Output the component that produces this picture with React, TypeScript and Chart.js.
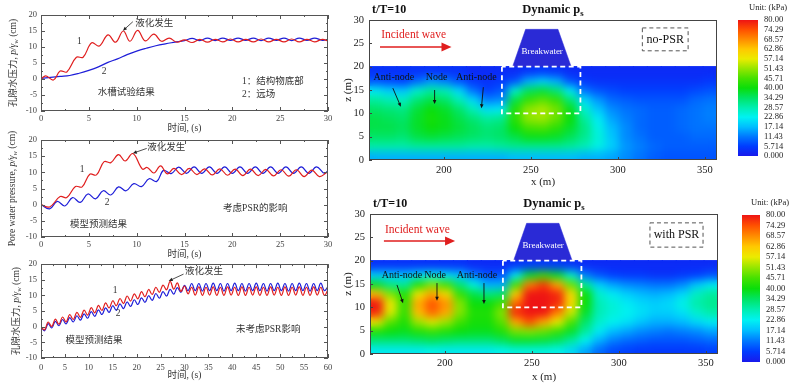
import React, { useEffect, useRef } from 'react';
import { Chart, registerables } from 'chart.js';
Chart.register(...registerables);

const SERIF = "'Liberation Serif','Noto Sans CJK SC',serif";
const RED = '#e01e1e';
const BLUE = '#1e1ed8';

// ---------- Left panel 1 : flume test ----------
const p1RedT = [0, 0.5, 1.3, 2.0, 2.7, 3.7, 4.4, 5.3, 6.1, 7.0, 7.8, 8.6, 9.3, 10.1, 10.9, 11.8, 12.6, 13.4, 14.2, 15.0, 15.8, 16.6, 17.4, 18.2, 19.0, 19.8, 20.6, 21.4, 22.2, 23.0, 23.8, 24.6, 25.4, 26.2, 27.0, 27.8, 28.6, 29.4, 30];
const p1RedV = [0, 1.0, -0.3, 2.5, 2.2, 6.8, 6.8, 11.3, 10.3, 13.8, 11.5, 15.0, 11.8, 15.2, 11.9, 14.0, 11.8, 12.8, 11.5, 12.2, 11.4, 12.4, 11.5, 12.4, 11.6, 12.5, 11.6, 12.4, 11.6, 12.5, 11.6, 12.4, 11.6, 12.5, 11.6, 12.4, 11.6, 12.4, 11.9];
const p1BlueT = [0, 1, 2, 3, 4, 5, 6, 7, 8, 9, 10, 11, 12, 13, 14, 15, 15.8, 16.6, 17.4, 18.2, 19.0, 19.8, 20.6, 21.4, 22.2, 23.0, 23.8, 24.6, 25.4, 26.2, 27.0, 27.8, 28.6, 29.4, 30];
const p1BlueV = [0.2, 0.5, 0.8, 1.1, 1.8, 2.7, 3.8, 5.2, 6.3, 7.6, 8.7, 9.6, 10.4, 11.0, 11.5, 12.0, 12.7, 12.0, 12.8, 12.0, 12.8, 12.1, 12.8, 12.1, 12.8, 12.0, 12.8, 12.1, 12.8, 12.0, 12.8, 12.1, 12.8, 12.1, 12.3];

// ---------- Left panel 2 : model with PSR ----------
const p2RedT = [0, 0.9, 2.0, 2.7, 3.6, 4.3, 5.1, 5.8, 6.6, 7.3, 8.1, 8.8, 9.6, 10.6, 11.1, 11.8, 12.5, 13.2, 13.9, 14.7, 15.5, 16.3, 17.1, 17.9, 18.7, 19.5, 20.3, 21.1, 21.9, 22.7, 23.5, 24.3, 25.1, 25.9, 26.7, 27.5, 28.3, 29.1, 29.9];
const p2RedV = [0, -0.7, 2.5, 2.2, 5.6, 5.5, 9.4, 9.2, 13.3, 13.0, 15.5, 13.5, 15.8, 11.0, 11.5, 9.8, 12.0, 9.5, 11.2, 9.3, 11.2, 9.3, 11.1, 9.2, 11.1, 9.1, 11.0, 9.0, 11.0, 9.0, 10.9, 8.9, 10.8, 8.8, 10.8, 8.7, 10.7, 8.7, 10.0];
const p2BlueT = [0, 0.9, 1.7, 2.5, 3.3, 4.1, 4.9, 5.7, 6.5, 7.3, 8.1, 8.9, 9.7, 10.5, 11.3, 12.1, 12.8, 13.6, 14.4, 15.2, 16.0, 16.8, 17.6, 18.4, 19.2, 20.0, 20.8, 21.6, 22.4, 23.2, 24.0, 24.8, 25.6, 26.4, 27.2, 28.0, 28.8, 29.6, 30];
const p2BlueV = [0, -1.3, 1.0, -0.4, 2.2, 0.7, 3.3, 1.8, 4.3, 3.0, 5.5, 4.3, 6.5, 5.6, 8.0, 7.2, 10.6, 9.6, 11.6, 9.7, 11.7, 9.7, 11.7, 9.7, 11.7, 9.7, 11.7, 9.7, 11.7, 9.7, 11.7, 9.7, 11.7, 9.7, 11.7, 9.7, 11.7, 9.7, 10.5];

// ---------- Left panel 3 : model without PSR (sampled every 0.75 s) ----------
const p3Step = 0.75;
const p3RedV = [0, -1.0, 1.5, 0.1, 2.4, 0.8, 3.1, 1.5, 3.9, 2.3, 4.6, 3.0, 5.3, 3.7, 6.1, 4.4, 6.8, 5.2, 7.6, 6.0, 8.3, 6.7, 9.0, 7.4, 9.8, 8.2, 10.5, 8.9, 11.2, 9.6, 11.9, 10.3, 12.6, 11.0, 13.3, 11.8, 14.5, 12.0, 14.0, 11.3, 13.0, 10.5, 12.6, 10.1, 12.7, 10.0, 12.6, 10.1, 12.7, 10.0, 12.6, 10.0, 12.7, 10.1, 12.6, 10.0, 12.7, 10.0, 12.6, 10.1, 12.7, 10.0, 12.6, 10.0, 12.7, 10.1, 12.6, 10.0, 12.7, 10.0, 12.6, 10.1, 12.7, 10.0, 12.6, 10.0, 12.7, 10.1, 12.6, 10.0, 11.8];
const p3BlueV = [0, -1.3, 1.0, -0.4, 1.7, 0.3, 2.3, 0.9, 2.9, 1.5, 3.5, 2.1, 4.1, 2.7, 4.8, 3.3, 5.4, 3.9, 6.0, 4.6, 6.7, 5.2, 7.3, 5.8, 7.9, 6.5, 8.6, 7.1, 9.2, 7.8, 9.9, 8.4, 10.6, 9.1, 11.2, 9.8, 11.9, 10.4, 12.5, 11.0, 13.2, 11.5, 13.8, 11.5, 13.8, 11.4, 13.8, 11.5, 13.9, 11.5, 13.8, 11.4, 13.8, 11.5, 13.9, 11.5, 13.8, 11.4, 13.8, 11.5, 13.9, 11.5, 13.8, 11.4, 13.8, 11.5, 13.9, 11.5, 13.8, 11.4, 13.8, 11.5, 13.9, 11.5, 13.8, 11.4, 13.8, 11.5, 13.9, 11.5, 12.8];

const leftYTicks = [-10, -5, 0, 5, 10, 15, 20];

// ---------- Heatmaps (dynamic pore pressure, kPa) ----------
const hmX = [161, 169, 177, 185, 193, 201, 209, 217, 225, 233, 241, 249, 257, 265, 273, 281, 289, 297, 305, 313, 321, 329, 337, 345, 353];
const hmZ = [19, 17, 15, 13, 11, 9, 7, 5, 3, 1];
const noPsrValues = [
  [4, 4, 4, 4, 4, 4, 4, 3, 3, 3, 3, 4, 5, 4, 3, 3, 3, 3, 3, 3, 3, 3, 3, 3, 3],
  [8, 7, 6, 10, 14, 12, 8, 5, 4, 5, 8, 16, 19, 16, 8, 5, 4, 4, 4, 4, 4, 4, 4, 4, 5],
  [22, 19, 18, 26, 30, 28, 20, 11, 6, 8, 26, 35, 37, 33, 22, 11, 8, 7, 6, 6, 6, 6, 6, 7, 8],
  [30, 28, 27, 33, 36, 34, 28, 20, 12, 13, 36, 44, 47, 44, 33, 20, 14, 10, 9, 8, 8, 8, 8, 10, 11],
  [34, 33, 32, 37, 40, 38, 34, 28, 21, 22, 42, 51, 53, 49, 39, 26, 18, 13, 11, 10, 9, 9, 10, 11, 12],
  [36, 35, 34, 38, 41, 39, 36, 33, 30, 31, 43, 51, 52, 48, 40, 30, 22, 15, 12, 10, 9, 9, 10, 11, 12],
  [36, 36, 35, 38, 40, 39, 37, 35, 33, 34, 40, 45, 46, 43, 38, 32, 24, 17, 13, 10, 9, 9, 10, 11, 11],
  [34, 34, 33, 36, 37, 36, 35, 34, 33, 34, 36, 39, 39, 38, 35, 31, 25, 18, 13, 11, 9, 9, 9, 10, 10],
  [29, 29, 29, 30, 30, 30, 30, 29, 29, 30, 31, 31, 31, 31, 30, 28, 24, 19, 14, 12, 10, 9, 9, 9, 9],
  [16, 16, 16, 16, 16, 16, 16, 16, 16, 16, 17, 17, 17, 17, 17, 16, 16, 15, 13, 11, 9, 8, 8, 8, 8],
];
const withPsrValues = [
  [4, 4, 4, 4, 4, 4, 4, 3, 3, 3, 4, 5, 5, 5, 4, 3, 3, 3, 3, 3, 3, 3, 3, 3, 3],
  [19, 19, 18, 21, 24, 21, 18, 12, 8, 8, 22, 38, 44, 38, 26, 12, 8, 6, 5, 5, 4, 4, 5, 6, 8],
  [38, 32, 30, 42, 50, 45, 33, 24, 16, 16, 45, 70, 76, 66, 48, 30, 19, 15, 13, 12, 11, 11, 13, 18, 22],
  [64, 50, 42, 58, 66, 60, 44, 36, 32, 34, 62, 80, 80, 78, 60, 40, 26, 22, 19, 17, 16, 17, 20, 27, 30],
  [80, 58, 44, 66, 74, 68, 50, 40, 40, 45, 72, 80, 80, 78, 60, 40, 28, 25, 22, 20, 19, 20, 24, 29, 31],
  [78, 56, 44, 64, 72, 66, 50, 42, 42, 50, 78, 80, 80, 70, 55, 38, 28, 25, 23, 21, 19, 19, 21, 26, 29],
  [58, 47, 42, 52, 56, 52, 45, 41, 41, 47, 66, 74, 66, 57, 46, 34, 26, 23, 21, 18, 16, 16, 17, 20, 22],
  [42, 40, 39, 42, 44, 42, 40, 39, 39, 42, 49, 50, 48, 44, 38, 30, 22, 17, 15, 13, 12, 11, 12, 13, 15],
  [33, 33, 33, 34, 35, 34, 33, 33, 33, 35, 38, 38, 37, 35, 30, 23, 16, 12, 10, 9, 8, 8, 8, 9, 10],
  [22, 22, 22, 22, 23, 22, 22, 22, 22, 23, 24, 24, 24, 23, 20, 15, 10, 7, 6, 5, 5, 5, 5, 5, 6],
];
const breakwaterX = [239.5, 247, 265.6, 273.2];
const breakwaterZ = [20, 28, 28, 20];
const boxX = [233.4, 233.4, 278.5, 278.5, 233.4];
const boxZ = [20, 10, 10, 20, 20];
const hmXTicks = [200, 250, 300, 350];
const cbTicks = [0, 5.714, 11.43, 17.14, 22.86, 28.57, 34.29, 40, 45.71, 51.43, 57.14, 62.86, 68.57, 74.29, 80];
const cbLabels = ['0.000', '5.714', '11.43', '17.14', '22.86', '28.57', '34.29', '40.00', '45.71', '51.43', '57.14', '62.86', '68.57', '74.29', '80.00'];

const cmap: [number, number[]][] = [
  [0, [25, 25, 235]], [5.714, [0, 60, 255]], [11.43, [0, 120, 255]], [17.14, [0, 190, 255]],
  [22.86, [0, 242, 242]], [28.57, [0, 238, 175]], [34.29, [0, 228, 100]], [40, [10, 222, 10]],
  [45.71, [70, 225, 0]], [51.43, [150, 230, 0]], [57.14, [235, 235, 0]], [62.86, [255, 200, 0]],
  [68.57, [255, 140, 0]], [74.29, [255, 80, 0]], [80, [238, 20, 20]],
];
function colorFor(v: number) {
  if (v <= 0) return `rgb(${cmap[0][1].join(',')})`;
  for (let i = 1; i < cmap.length; i++) {
    if (v <= cmap[i][0]) {
      const [v0, c0] = cmap[i - 1];
      const [v1, c1] = cmap[i];
      const f = (v - v0) / (v1 - v0);
      const c = c0.map((a, k) => Math.round(a + (c1[k] - a) * f));
      return `rgb(${c.join(',')})`;
    }
  }
  return `rgb(${cmap[cmap.length - 1][1].join(',')})`;
}

// ---------- helpers ----------
function drawArrow(ctx: CanvasRenderingContext2D, x1: number, y1: number, x2: number, y2: number, color: string, lw: number, head: number) {
  const ang = Math.atan2(y2 - y1, x2 - x1);
  ctx.save();
  ctx.strokeStyle = color; ctx.fillStyle = color; ctx.lineWidth = lw;
  ctx.beginPath();
  ctx.moveTo(x1, y1);
  ctx.lineTo(x2 - Math.cos(ang) * head * 0.8, y2 - Math.sin(ang) * head * 0.8);
  ctx.stroke();
  ctx.beginPath();
  ctx.moveTo(x2, y2);
  ctx.lineTo(x2 - head * Math.cos(ang) + head * 0.45 * Math.sin(ang), y2 - head * Math.sin(ang) - head * 0.45 * Math.cos(ang));
  ctx.lineTo(x2 - head * Math.cos(ang) - head * 0.45 * Math.sin(ang), y2 - head * Math.sin(ang) + head * 0.45 * Math.cos(ang));
  ctx.closePath();
  ctx.fill();
  ctx.restore();
}

type Part = { t: string; sub?: boolean; italic?: boolean; bold?: boolean };
function drawRich(ctx: CanvasRenderingContext2D, cx: number, cy: number, parts: Part[], size: number, rot: number, color: string, align = 'center') {
  ctx.save();
  ctx.translate(cx, cy);
  ctx.rotate(rot);
  const font = (p: Part) => `${p.italic ? 'italic ' : ''}${p.bold ? 'bold ' : ''}${p.sub ? size * 0.7 : size}px ${SERIF}`;
  let total = 0;
  parts.forEach(p => { ctx.font = font(p); total += ctx.measureText(p.t).width; });
  let x = align === 'center' ? -total / 2 : 0;
  ctx.textBaseline = 'middle';
  ctx.textAlign = 'left';
  ctx.fillStyle = color;
  parts.forEach(p => {
    ctx.font = font(p);
    ctx.fillText(p.t, x, p.sub ? size * 0.32 : 0);
    x += ctx.measureText(p.t).width;
  });
  ctx.restore();
}

// ---------- left panels ----------
type Label = { text: string; x: number; y: number; align?: CanvasTextAlign; size?: number };
type LeftPanel = {
  top: number; height: number; padTop: number; xAxisH: number; tickPad: number; titlePad: number;
  xMax: number; red: { x: number; y: number }[]; blue: { x: number; y: number }[];
  yTitle: Part[]; yTitleX: number; labels: Label[]; arrow: number[];
};

const cjkTitle: Part[] = [{ t: '孔隙水压力, ' }, { t: 'p/γ', italic: true }, { t: 'w', sub: true, italic: true }, { t: ' (cm)' }];
const enTitle: Part[] = [{ t: 'Pore water pressure, ' }, { t: 'p/γ', italic: true }, { t: 'w', sub: true, italic: true }, { t: ' (cm)' }];

const panels: LeftPanel[] = [
  {
    top: 0, height: 136, padTop: 15, xAxisH: 25, tickPad: 3, titlePad: 2, xMax: 30,
    red: p1RedT.map((t, i) => ({ x: t, y: p1RedV[i] })),
    blue: p1BlueT.map((t, i) => ({ x: t, y: p1BlueV[i] })),
    yTitle: cjkTitle, yTitleX: 13,
    labels: [
      { text: '液化发生', x: 9.85, y: 17.5, align: 'left' },
      { text: '1', x: 4.0, y: 11.6 }, { text: '2', x: 6.6, y: 2.2 },
      { text: '水槽试验结果', x: 8.9, y: -4.1 },
      { text: '1：结构物底部', x: 21.0, y: -0.9, align: 'left' },
      { text: '2：远场', x: 21.0, y: -4.7, align: 'left' },
    ],
    arrow: [9.6, 17.9, 8.56, 15.1],
  },
  {
    top: 130, height: 132, padTop: 10, xAxisH: 25, tickPad: 3, titlePad: 2, xMax: 30,
    red: p2RedT.map((t, i) => ({ x: t, y: p2RedV[i] })),
    blue: p2BlueT.map((t, i) => ({ x: t, y: p2BlueV[i] })),
    yTitle: enTitle, yTitleX: 12,
    labels: [
      { text: '液化发生', x: 11.1, y: 17.8, align: 'left' },
      { text: '1', x: 4.3, y: 11.0 }, { text: '2', x: 6.9, y: 0.8 },
      { text: '考虑PSR的影响', x: 22.4, y: -1.3 },
      { text: '模型预测结果', x: 6.0, y: -6.0 },
    ],
    arrow: [11.05, 17.4, 9.6, 15.9],
  },
  {
    top: 255, height: 132, padTop: 7, xAxisH: 29, tickPad: 5, titlePad: 6, xMax: 60,
    red: p3RedV.map((v, i) => ({ x: i * p3Step, y: v })),
    blue: p3BlueV.map((v, i) => ({ x: i * p3Step, y: v })),
    yTitle: cjkTitle, yTitleX: 16,
    labels: [
      { text: '液化发生', x: 30.1, y: 17.5, align: 'left' },
      { text: '1', x: 15.5, y: 11.6 }, { text: '2', x: 16.1, y: 4.1 },
      { text: '未考虑PSR影响', x: 47.5, y: -0.9 },
      { text: '模型预测结果', x: 11.1, y: -4.4 },
    ],
    arrow: [29.8, 16.8, 26.7, 14.6],
  },
];

function leftConfig(p: LeftPanel): any {
  const deco = {
    id: 'leftDeco',
    afterDraw(chart: any) {
      const { ctx, chartArea: a, scales } = chart;
      const X = (v: number) => scales.x.getPixelForValue(v);
      const Y = (v: number) => scales.y.getPixelForValue(v);
      ctx.save();
      ctx.strokeStyle = '#555';
      ctx.lineWidth = 1;
      ctx.strokeRect(Math.round(a.left) + 0.5, Math.round(a.top) + 0.5, Math.round(a.width) - 1, Math.round(a.height) - 1);
      ctx.beginPath();
      for (let v = 0; v <= p.xMax; v += 2.5) {
        const len = v % 5 === 0 ? 4 : 2;
        const px = Math.round(X(v)) + 0.5;
        ctx.moveTo(px, a.bottom); ctx.lineTo(px, a.bottom - len);
        ctx.moveTo(px, a.top); ctx.lineTo(px, a.top + len);
      }
      for (let v = -10; v <= 20; v += 2.5) {
        const len = v % 5 === 0 ? 4 : 2;
        const py = Math.round(Y(v)) + 0.5;
        ctx.moveTo(a.left, py); ctx.lineTo(a.left + len, py);
        ctx.moveTo(a.right, py); ctx.lineTo(a.right - len, py);
      }
      ctx.stroke();
      drawRich(ctx, p.yTitleX, (a.top + a.bottom) / 2, p.yTitle, 9.5, -Math.PI / 2, '#333');
      ctx.fillStyle = '#333';
      ctx.textBaseline = 'middle';
      for (const l of p.labels) {
        ctx.font = `${l.size || 9.5}px ${SERIF}`;
        ctx.textAlign = l.align || 'center';
        ctx.fillText(l.text, X(l.x), Y(l.y));
      }
      drawArrow(ctx, X(p.arrow[0]), Y(p.arrow[1]), X(p.arrow[2]), Y(p.arrow[3]), '#222', 0.8, 4);
      ctx.restore();
    },
  };
  const tickFont = { family: SERIF, size: 8.5 };
  return {
    type: 'line',
    data: {
      datasets: [
        { data: p.red, borderColor: RED, borderWidth: 1.2, pointRadius: 0, tension: 0.4, fill: false },
        { data: p.blue, borderColor: BLUE, borderWidth: 1.2, pointRadius: 0, tension: 0.4, fill: false },
      ],
    },
    options: {
      responsive: false, animation: false,
      layout: { padding: { top: p.padTop, right: 12, left: 0, bottom: 0 } },
      plugins: { legend: { display: false }, tooltip: { enabled: false } },
      scales: {
        x: {
          type: 'linear', min: 0, max: p.xMax,
          ticks: { stepSize: 5, font: tickFont, color: '#444', padding: p.tickPad, maxRotation: 0, autoSkip: false },
          grid: { display: false, drawTicks: false }, border: { display: false },
          title: { display: true, text: '时间, (s)', font: { family: SERIF, size: 9.5 }, color: '#333', padding: { top: 0, bottom: p.titlePad } },
          afterFit: (s: any) => { s.height = p.xAxisH; },
        },
        y: {
          min: -10, max: 20,
          afterBuildTicks: (s: any) => { s.ticks = leftYTicks.map(v => ({ value: v })); },
          ticks: { font: tickFont, color: '#444', padding: 4 },
          grid: { display: false, drawTicks: false }, border: { display: false },
          afterFit: (s: any) => { s.width = 41; },
        },
      },
    },
    plugins: [deco],
  };
}

// ---------- heatmaps ----------
type NodeLabel = { text: string; x: number; z: number; arrow: number[] };
type HeatPanel = {
  top: number; height: number; padTop: number; padRight: number; yW: number; xH: number;
  xTickPad: number; xTitlePad: number; values: number[][]; tag: string; tagBox: number[];
  incident: number[]; nodes: NodeLabel[];
};
const heats: HeatPanel[] = [
  {
    top: 0, height: 195, padTop: 20, padRight: 18, yW: 29, xH: 35, xTickPad: 4, xTitlePad: 6,
    values: noPsrValues, tag: 'no-PSR', tagBox: [314.1, 340.4, 28.3, 23.4],
    incident: [164, 26.8, 163.3, 204.4, 24.2],
    nodes: [
      { text: 'Anti-node', x: 171.3, z: 17.6, arrow: [170.7, 15.4, 175.3, 11.4] },
      { text: 'Node', x: 195.9, z: 17.6, arrow: [194.7, 15.0, 194.7, 12.0] },
      { text: 'Anti-node', x: 218.7, z: 17.6, arrow: [222.7, 15.6, 221.6, 11.1] },
    ],
  },
  {
    top: 195, height: 192, padTop: 19, padRight: 17, yW: 30, xH: 33, xTickPad: 3, xTitlePad: 3,
    values: withPsrValues, tag: 'with PSR', tagBox: [317.9, 348.4, 28.1, 22.9],
    incident: [165.6, 26.6, 165, 205.9, 24.2],
    nodes: [
      { text: 'Anti-node', x: 175.4, z: 16.9, arrow: [172.5, 14.8, 176, 10.9] },
      { text: 'Node', x: 194.4, z: 16.9, arrow: [195.5, 15.2, 195.5, 11.4] },
      { text: 'Anti-node', x: 218.5, z: 16.9, arrow: [222.5, 15.2, 222.5, 10.7] },
    ],
  },
];

function heatConfig(h: HeatPanel): any {
  const rows = h.values.map((row, r) => ({
    type: 'bar',
    data: hmX.map(x => ({ x, y: [hmZ[r] - 1, hmZ[r] + 1] })),
    backgroundColor: row.map(colorFor),
    borderWidth: 0, barPercentage: 1, categoryPercentage: 1, grouped: false, inflateAmount: 0.6, order: 5,
  }));
  const smooth = {
    id: 'heatSmooth',
    beforeDatasetDraw(chart: any, args: any) {
      if (args.index !== 1) return; // all cell rows are drawn; soften before overlays
      const { ctx, chartArea: a, scales } = chart;
      const x0 = Math.round(a.left), x1 = Math.round(a.right);
      const y0 = Math.round(scales.y.getPixelForValue(20)), y1 = Math.round(scales.y.getPixelForValue(0));
      const w = x1 - x0, hh = y1 - y0;
      const off = document.createElement('canvas');
      off.width = w; off.height = hh;
      const octx = off.getContext('2d');
      if (!octx) return;
      octx.drawImage(chart.canvas, x0, y0, w, hh, 0, 0, w, hh);
      ctx.save();
      ctx.beginPath(); ctx.rect(x0, y0, w, hh); ctx.clip();
      ctx.filter = 'blur(4px)';
      ctx.drawImage(off, x0, y0);
      ctx.drawImage(off, x0, y0);
      ctx.restore();
    },
  };
  const deco = {
    id: 'heatDeco',
    afterDraw(chart: any) {
      const { ctx, chartArea: a, scales } = chart;
      const X = (v: number) => scales.x.getPixelForValue(v);
      const Y = (v: number) => scales.y.getPixelForValue(v);
      ctx.save();
      ctx.strokeStyle = '#444'; ctx.lineWidth = 1;
      ctx.strokeRect(Math.round(a.left) + 0.5, Math.round(a.top) + 0.5, Math.round(a.width) - 1, Math.round(a.height) - 1);
      ctx.beginPath();
      for (const v of hmXTicks) { const px = Math.round(X(v)) + 0.5; ctx.moveTo(px, a.bottom); ctx.lineTo(px, a.bottom - 3); }
      for (let v = 0; v <= 30; v += 5) { const py = Math.round(Y(v)) + 0.5; ctx.moveTo(a.left, py); ctx.lineTo(a.left + 3, py); }
      ctx.stroke();
      ctx.fillStyle = '#111'; ctx.textBaseline = 'middle'; ctx.textAlign = 'left';
      ctx.font = `bold 12px ${SERIF}`;
      ctx.fillText('t/T=10', a.left + 3, a.top - 10);
      drawRich(ctx, a.left + 184, a.top - 10, [{ t: 'Dynamic p', bold: true }, { t: 's', bold: true, sub: true }], 12.5, 0, '#111');
      ctx.fillStyle = RED; ctx.font = `11.5px ${SERIF}`; ctx.textAlign = 'left';
      ctx.fillText('Incident wave', X(h.incident[0]), Y(h.incident[1]));
      drawArrow(ctx, X(h.incident[2]), Y(h.incident[4]), X(h.incident[3]), Y(h.incident[4]), RED, 1.6, 10);
      const [bx0, bx1, bz0, bz1] = h.tagBox;
      ctx.strokeStyle = '#555'; ctx.lineWidth = 1; ctx.setLineDash([4, 3]);
      ctx.strokeRect(X(bx0), Y(bz0), X(bx1) - X(bx0), Y(bz1) - Y(bz0));
      ctx.setLineDash([]);
      ctx.fillStyle = '#111'; ctx.font = `12px ${SERIF}`; ctx.textAlign = 'center';
      ctx.fillText(h.tag, (X(bx0) + X(bx1)) / 2, (Y(bz0) + Y(bz1)) / 2);
      ctx.fillStyle = '#fff'; ctx.font = `9px ${SERIF}`;
      ctx.fillText('Breakwater', X(256.5), Y(23.2));
      ctx.font = `10px ${SERIF}`;
      for (const n of h.nodes) {
        ctx.fillStyle = '#111';
        ctx.fillText(n.text, X(n.x), Y(n.z));
        drawArrow(ctx, X(n.arrow[0]), Y(n.arrow[1]), X(n.arrow[2]), Y(n.arrow[3]), '#111', 0.9, 4);
      }
      ctx.restore();
    },
  };
  const tickFont = { family: SERIF, size: 10.5 };
  return {
    type: 'bar',
    data: {
      datasets: [
        {
          type: 'line', data: boxX.map((x, i) => ({ x, y: boxZ[i] })), borderColor: '#ffffff', borderWidth: 1.8,
          borderDash: [5, 3.5], pointRadius: 0, fill: false, tension: 0, order: -2,
        },
        {
          type: 'line', data: breakwaterX.map((x, i) => ({ x, y: breakwaterZ[i] })), borderColor: '#2a2ad6',
          backgroundColor: '#2a2ad6', borderWidth: 0.5, pointRadius: 0, fill: { value: 20 }, tension: 0, order: -1,
        },
        ...rows,
      ],
    },
    options: {
      responsive: false, animation: false,
      layout: { padding: { top: h.padTop, right: h.padRight, left: 0, bottom: 0 } },
      plugins: { legend: { display: false }, tooltip: { enabled: false } },
      scales: {
        x: {
          type: 'linear', min: 157, max: 357, offset: false,
          afterBuildTicks: (s: any) => { s.ticks = hmXTicks.map(v => ({ value: v })); },
          ticks: { font: tickFont, color: '#222', padding: h.xTickPad, maxRotation: 0, autoSkip: false },
          grid: { display: false, drawTicks: false, offset: false }, border: { display: false },
          title: { display: true, text: 'x (m)', font: { family: SERIF, size: 11 }, color: '#222', padding: { top: 0, bottom: h.xTitlePad } },
          afterFit: (s: any) => { s.height = h.xH; },
        },
        y: {
          type: 'linear', min: 0, max: 30,
          ticks: { stepSize: 5, font: tickFont, color: '#222', padding: 5 },
          grid: { display: false, drawTicks: false }, border: { display: false },
          title: { display: true, text: 'z (m)', font: { family: SERIF, size: 11 }, color: '#222', padding: { top: 1.5, bottom: 0 } },
          afterFit: (s: any) => { s.width = h.yW; },
        },
      },
    },
    plugins: [smooth, deco],
  };
}

// ---------- colorbars ----------
type Bar = { top: number; height: number; padLeft: number; padTop: number; padBottom: number; yW: number; unitX: number };
const bars: Bar[] = [
  { top: 0, height: 195, padLeft: 3, padTop: 20, padBottom: 39, yW: 40, unitX: 33 },
  { top: 195, height: 192, padLeft: 7, padTop: 20, padBottom: 25, yW: 38, unitX: 35 },
];
function barConfig(b: Bar): any {
  return {
    type: 'bar',
    data: {
      labels: [''],
      datasets: [{
        data: [[0, 80]], borderWidth: 0, barPercentage: 1, categoryPercentage: 1,
        backgroundColor: (c: any) => {
          const a = c.chart.chartArea;
          if (!a) return '#00f';
          const g = c.chart.ctx.createLinearGradient(0, a.bottom, 0, a.top);
          cmap.forEach(([v, rgb]) => g.addColorStop(v / 80, `rgb(${rgb.join(',')})`));
          return g;
        },
      }],
    },
    options: {
      responsive: false, animation: false,
      layout: { padding: { left: b.padLeft, right: 0, top: b.padTop, bottom: b.padBottom } },
      plugins: { legend: { display: false }, tooltip: { enabled: false } },
      scales: {
        x: { display: false },
        y: {
          position: 'right', min: 0, max: 80,
          afterBuildTicks: (s: any) => { s.ticks = cbTicks.map(v => ({ value: v })); },
          ticks: {
            autoSkip: false, font: { family: SERIF, size: 8.5 }, color: '#222', padding: 6,
            callback: (v: number) => cbLabels[cbTicks.indexOf(v)] ?? '',
          },
          grid: { display: false, drawTicks: false }, border: { display: false },
          afterFit: (s: any) => { s.width = b.yW; },
        },
      },
    },
    plugins: [{
      id: 'unit',
      afterDraw(chart: any) {
        const { ctx } = chart;
        ctx.save();
        ctx.fillStyle = '#222'; ctx.font = `8.5px ${SERIF}`; ctx.textAlign = 'center'; ctx.textBaseline = 'middle';
        ctx.fillText('Unit: (kPa)', b.unitX, 8);
        ctx.restore();
      },
    }],
  };
}

function ChartBox({ left, top, width, height, config }: { left: number; top: number; width: number; height: number; config: () => any }) {
  const ref = useRef<HTMLCanvasElement>(null);
  useEffect(() => {
    const chart = new Chart(ref.current as HTMLCanvasElement, config());
    return () => chart.destroy();
  }, []);
  return (
    <div style={{ position: 'absolute', left, top, width, height }}>
      <canvas ref={ref} width={width} height={height} style={{ display: 'block', width, height }} />
    </div>
  );
}

export default function App() {
  return (
    <div style={{ position: 'absolute', left: 0, top: 0, width: 798, height: 387, background: '#fff', overflow: 'hidden' }}>
      {panels.map((p, i) => (
        <ChartBox key={'l' + i} left={0} top={p.top} width={340} height={p.height} config={() => leftConfig(p)} />
      ))}
      {heats.map((h, i) => (
        <ChartBox key={'h' + i} left={340} top={h.top} width={395} height={h.height} config={() => heatConfig(h)} />
      ))}
      {bars.map((b, i) => (
        <ChartBox key={'b' + i} left={735} top={b.top} width={63} height={b.height} config={() => barConfig(b)} />
      ))}
    </div>
  );
}
